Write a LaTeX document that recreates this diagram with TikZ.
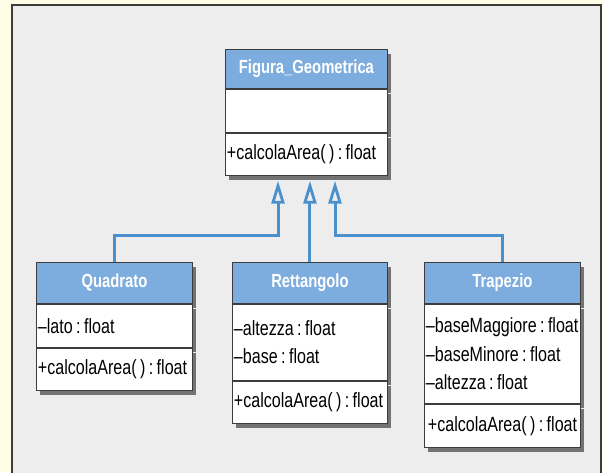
\documentclass[tikz,border=0pt]{standalone}
\usepackage{fontspec}
\setmainfont{Liberation Sans}[FakeStretch=0.78]
\usepackage{xcolor}
\definecolor{crema}{RGB}{254,253,230}
\definecolor{grigio}{RGB}{237,237,237}
\definecolor{bordo}{RGB}{60,60,60}
\definecolor{azzurro}{RGB}{125,172,222}
\definecolor{blu}{RGB}{74,144,204}
\usepackage{tikz}
\usetikzlibrary{arrows.meta, positioning, shadows}

\tikzset{
  corpo/.style={draw=bordo, line width=0.9pt, fill=white, anchor=north west,
    inner xsep=1.5pt, inner ysep=0pt, align=left,
    font=\fontsize{20.6}{28.5}\selectfont,
    drop shadow={shadow xshift=3.5pt, shadow yshift=-4.5pt, fill=black!75, opacity=0.7}},
  testa/.style={corpo, fill=azzurro, text=white, align=center,
    font=\bfseries\fontsize{19}{24}\selectfont},
  eredita/.style={draw=blu, line width=3pt, line join=miter,
    -{Triangle[length=23pt, width=13pt, fill=grigio, line width=2.8pt]}, shorten >=5pt}
}

\begin{document}
\begin{tikzpicture}[x=1pt, y=-1pt]
  \useasboundingbox (0,0) rectangle (603,472);
  % Sfondo
  \fill[crema] (0,0) rectangle (603,472);
  \draw[bordo, line width=2pt, fill=grigio] (12,5) rectangle (601,480);

  % Classe base
  \node[testa, text width=159pt, minimum height=39pt] (fig) at (225,49) {Figura\_Geometrica};
  \node[corpo, text width=159pt, minimum height=43pt] (figA) at (fig.south west) {};
  \node[corpo, text width=159pt, minimum height=42pt] (figM) at (figA.south west) {+calcolaArea(\,)\,:\,float};

  % Quadrato
  \node[testa, text width=153pt, minimum height=41pt] (quad) at (36,262) {Quadrato};
  \node[corpo, text width=153pt, minimum height=43pt] (quadA) at (quad.south west) {--lato\,:\,float};
  \node[corpo, text width=153pt, minimum height=42pt] (quadM) at (quadA.south west) {+calcolaArea(\,)\,:\,float};

  % Rettangolo
  \node[testa, text width=152pt, minimum height=41pt] (ret) at (232,262) {Rettangolo};
  \node[corpo, text width=152pt, minimum height=76pt] (retA) at (ret.south west) {--altezza\,:\,float\\--base\,:\,float};
  \node[corpo, text width=152pt, minimum height=42pt] (retM) at (retA.south west) {+calcolaArea(\,)\,:\,float};

  % Trapezio
  \node[testa, text width=153pt, minimum height=41pt] (tra) at (424,262) {Trapezio};
  \node[corpo, text width=153pt, minimum height=99pt] (traA) at (tra.south west) {--baseMaggiore\,:\,float\\--baseMinore\,:\,float\\--altezza\,:\,float};
  \node[corpo, text width=153pt, minimum height=43pt] (traM) at (traA.south west) {\hspace{2pt}\mbox{+calcolaArea(\,)\,:\,float}};

  % Generalizzazioni
  \coordinate (g1) at (278,235);
  \coordinate (g3) at (335,235);
  \draw[eredita] (quad.north) |- (g1) -- (g1 |- figM.south);
  \draw[eredita] (ret.north) -- (ret.north |- figM.south);
  \draw[eredita] (tra.north) |- (g3) -- (g3 |- figM.south);
\end{tikzpicture}
\end{document}
